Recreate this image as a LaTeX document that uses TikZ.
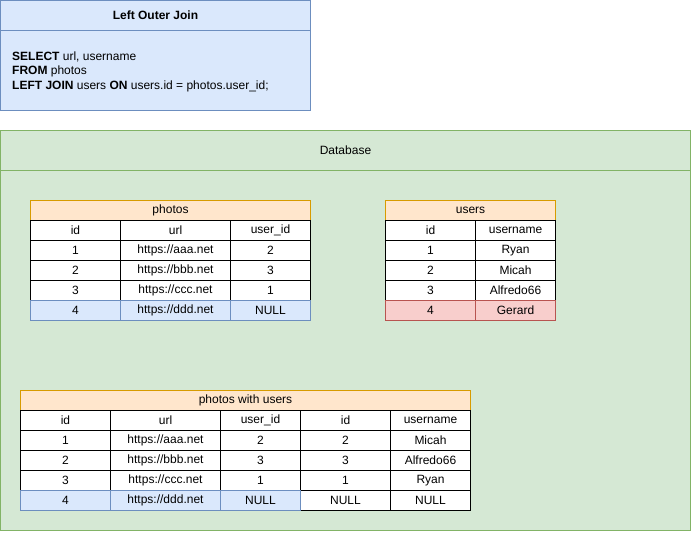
\documentclass[tikz,border=0pt]{standalone}
\usepackage{fontspec}
\setmainfont{Liberation Sans}
\definecolor{blueF}{HTML}{DAE8FC}
\definecolor{blueS}{HTML}{6C8EBF}
\definecolor{greenF}{HTML}{D5E8D4}
\definecolor{greenS}{HTML}{82B366}
\definecolor{orangeF}{HTML}{FFE6CC}
\definecolor{orangeS}{HTML}{D79B00}
\definecolor{redF}{HTML}{F8CECC}
\definecolor{redS}{HTML}{B85450}
\newcommand\cel[6][]{\node[cell,minimum width=#5pt,#1] (#2) at (#3,#4) {#6};}
\begin{document}
\begin{tikzpicture}[x=1pt,y=-1pt,
  txt/.style={font=\fontsize{12}{14.5}\selectfont},
  cell/.style={draw=black, fill=white, line width=1pt, inner sep=0pt, outer sep=0pt,
    minimum height=20pt, anchor=north west, txt},
  hdr/.style={draw=orangeS, fill=orangeF},
  bluerow/.style={draw=blueS, fill=blueF},
  redrow/.style={draw=redS, fill=redF},
  panel/.style={line width=1pt, inner sep=0pt, outer sep=0pt, anchor=north west}]
\useasboundingbox (0,0) rectangle (692,532);
% query box
\node[panel, draw=blueS, fill=blueF, minimum width=310pt, minimum height=110pt] (query) at (0.5,0.5) {};
\draw[line width=1pt, blueS] (0.5,30.5) -- (310.5,30.5);
\node[txt, font=\fontsize{12}{14.5}\selectfont\bfseries] (qtitle) at (155.5,15) {Left Outer Join};
\node[txt, align=left, anchor=west, inner sep=0pt] (qsql) at (12,71.5) {\textbf{SELECT} url, username\\\textbf{FROM} photos\\\textbf{LEFT JOIN} users \textbf{ON} users.id = photos.user\_id;};
% database box
\node[panel, draw=greenS, fill=greenF, minimum width=690pt, minimum height=400pt] (db) at (0.5,130.5) {};
\draw[line width=1pt, greenS] (0.5,170.5) -- (690.5,170.5);
\node[txt] (dbtitle) at (345.5,150) {Database};
% photos table
\cel[hdr]{ph}{30.5}{200.5}{280}{photos}
\cel{ph0a}{30.5}{220.5}{90}{id}
\cel{ph0b}{120.5}{220.5}{110}{url}
\cel{ph0c}{230.5}{220.5}{80}{user\_id}
\cel{ph1a}{30.5}{240.5}{90}{1}
\cel{ph1b}{120.5}{240.5}{110}{https://aaa.net}
\cel{ph1c}{230.5}{240.5}{80}{2}
\cel{ph2a}{30.5}{260.5}{90}{2}
\cel{ph2b}{120.5}{260.5}{110}{https://bbb.net}
\cel{ph2c}{230.5}{260.5}{80}{3}
\cel{ph3a}{30.5}{280.5}{90}{3}
\cel{ph3b}{120.5}{280.5}{110}{https://ccc.net}
\cel{ph3c}{230.5}{280.5}{80}{1}
\cel[bluerow]{ph4a}{30.5}{300.5}{90}{4}
\cel[bluerow]{ph4b}{120.5}{300.5}{110}{https://ddd.net}
\cel[bluerow]{ph4c}{230.5}{300.5}{80}{NULL}
% users table
\cel[hdr]{us}{385.5}{200.5}{170}{users}
\cel{us0a}{385.5}{220.5}{90}{id}
\cel{us0b}{475.5}{220.5}{80}{username}
\cel{us1a}{385.5}{240.5}{90}{1}
\cel{us1b}{475.5}{240.5}{80}{Ryan}
\cel{us2a}{385.5}{260.5}{90}{2}
\cel{us2b}{475.5}{260.5}{80}{Micah}
\cel{us3a}{385.5}{280.5}{90}{3}
\cel{us3b}{475.5}{280.5}{80}{Alfredo66}
\cel[redrow]{us4a}{385.5}{300.5}{90}{4}
\cel[redrow]{us4b}{475.5}{300.5}{80}{Gerard}
% photos with users
\cel[hdr]{pu}{20.5}{390.5}{450}{photos with users}
\cel{pu0a}{20.5}{410.5}{90}{id}
\cel{pu0b}{110.5}{410.5}{110}{url}
\cel{pu0c}{220.5}{410.5}{80}{user\_id}
\cel{pu0d}{300.5}{410.5}{90}{id}
\cel{pu0e}{390.5}{410.5}{80}{username}
\cel{pu1a}{20.5}{430.5}{90}{1}
\cel{pu1b}{110.5}{430.5}{110}{https://aaa.net}
\cel{pu1c}{220.5}{430.5}{80}{2}
\cel{pu1d}{300.5}{430.5}{90}{2}
\cel{pu1e}{390.5}{430.5}{80}{Micah}
\cel{pu2a}{20.5}{450.5}{90}{2}
\cel{pu2b}{110.5}{450.5}{110}{https://bbb.net}
\cel{pu2c}{220.5}{450.5}{80}{3}
\cel{pu2d}{300.5}{450.5}{90}{3}
\cel{pu2e}{390.5}{450.5}{80}{Alfredo66}
\cel{pu3a}{20.5}{470.5}{90}{3}
\cel{pu3b}{110.5}{470.5}{110}{https://ccc.net}
\cel{pu3c}{220.5}{470.5}{80}{1}
\cel{pu3d}{300.5}{470.5}{90}{1}
\cel{pu3e}{390.5}{470.5}{80}{Ryan}
\cel{pu4d}{300.5}{490.5}{90}{NULL}
\cel{pu4e}{390.5}{490.5}{80}{NULL}
\cel[bluerow]{pu4a}{20.5}{490.5}{90}{4}
\cel[bluerow]{pu4b}{110.5}{490.5}{110}{https://ddd.net}
\cel[bluerow]{pu4c}{220.5}{490.5}{80}{NULL}
\end{tikzpicture}
\end{document}
